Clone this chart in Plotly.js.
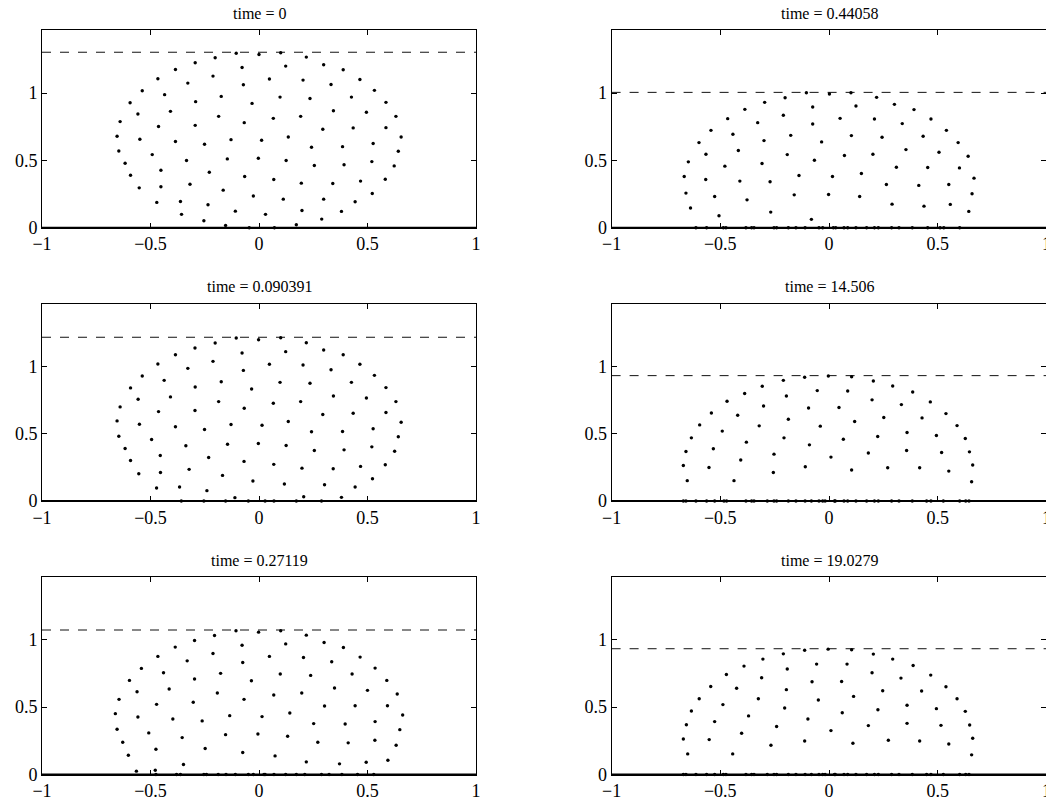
<!DOCTYPE html>
<html><head><meta charset="utf-8">
<script src="https://cdn.plot.ly/plotly-3.0.1.min.js"></script>
<style>html,body{margin:0;padding:0;background:#fff;overflow:hidden;width:1046px;height:803px}#chart{width:1060px;height:803px}</style>
</head><body><div id="chart"></div><script>
const titles = ['time = 0', 'time = 0.44058', 'time = 0.090391', 'time = 14.506', 'time = 0.27119', 'time = 19.0279'];
const surfaceLevels = [1.303, 1.005, 1.216, 0.931, 1.073, 0.934];
const xTicks = [-1, -0.5, 0, 0.5, 1];
const yTicks = [0, 0.5, 1];

const panel1 = [[-0.105,1.296],[-0.202,1.262],[-0.294,1.225],[-0.385,1.175],[-0.078,1.190],[-0.212,1.126],[-0.466,1.106],[-0.328,1.074],[-0.072,1.062],[-0.538,1.017],[-0.435,0.988],[-0.174,0.975],[-0.594,0.928],[-0.292,0.936],[-0.032,0.923],[-0.408,0.864],[-0.558,0.844],[-0.186,0.827],[-0.640,0.788],[-0.068,0.780],[-0.463,0.751],[-0.294,0.760],[-0.654,0.679],[-0.549,0.657],[-0.129,0.654],[-0.385,0.640],[-0.251,0.620],[-0.646,0.570],[-0.492,0.543],[-0.146,0.511],[-0.334,0.499],[-0.617,0.479],[-0.452,0.427],[-0.229,0.412],[-0.592,0.390],[-0.066,0.380],[-0.318,0.323],[-0.552,0.296],[-0.452,0.304],[-0.165,0.279],[-0.026,0.235],[-0.362,0.195],[-0.471,0.188],[-0.235,0.170],[-0.109,0.123],[-0.357,0.099],[-0.254,0.052],[-0.154,0.017],[-0.045,0.0],
[0,1.286],[0.100,1.299],[0.218,1.267],[0.123,1.200],[0.298,1.210],[0.388,1.173],[0.048,1.104],[0.203,1.096],[0.332,1.064],[0.465,1.101],[0.532,1.020],[0.097,0.970],[0.235,0.960],[0.426,0.970],[0.585,0.931],[0.343,0.869],[0.495,0.857],[0.066,0.812],[0.192,0.827],[0.631,0.827],[0.294,0.731],[0.434,0.741],[0.585,0.743],[0.655,0.674],[0.012,0.649],[0.135,0.674],[0.242,0.598],[0.385,0.602],[0.526,0.625],[0.642,0.568],[-0.003,0.516],[0.125,0.499],[0.255,0.462],[0.392,0.467],[0.520,0.491],[0.623,0.459],[0.068,0.358],[0.195,0.331],[0.340,0.328],[0.468,0.346],[0.582,0.360],[0.522,0.254],[0.112,0.212],[0.298,0.212],[0.443,0.193],[0.198,0.128],[0.380,0.121],[0.030,0.099],[0.289,0.064],[0.172,0.022],[0.071,0.0]];

const panel2 = [[-0.104,1.002],[0.002,0.993],[-0.202,0.965],[-0.296,0.931],[-0.387,0.879],[-0.075,0.896],[-0.210,0.835],[-0.466,0.810],[-0.328,0.780],[-0.075,0.770],[-0.543,0.723],[-0.442,0.694],[-0.176,0.686],[-0.598,0.632],[-0.299,0.647],[-0.034,0.637],[-0.417,0.573],[-0.566,0.546],[-0.192,0.543],[-0.647,0.489],[-0.067,0.501],[-0.479,0.457],[-0.308,0.477],[-0.666,0.380],[-0.567,0.358],[-0.138,0.388],[0.016,0.380],[-0.410,0.346],[-0.271,0.341],[-0.658,0.257],[-0.526,0.232],[-0.160,0.244],[-0.002,0.247],[-0.377,0.207],[-0.637,0.146],[-0.506,0.089],[-0.268,0.116],[-0.081,0.062],
[-0.612,0],[-0.563,0],[-0.486,0],[-0.474,0],[-0.382,0],[-0.356,0],[-0.345,0],[-0.253,0],[-0.241,0],[-0.187,0],[-0.152,0],[-0.110,0],[-0.046,0],[-0.029,0],[0.020,0],
[0.101,1.002],[0.219,0.968],[0.124,0.904],[0.301,0.916],[0.391,0.877],[0.051,0.812],[0.209,0.807],[0.337,0.773],[0.469,0.807],[0.540,0.723],[0.103,0.684],[0.244,0.672],[0.433,0.679],[0.594,0.632],[0.354,0.580],[0.506,0.560],[0.071,0.536],[0.202,0.546],[0.640,0.531],[0.310,0.449],[0.454,0.447],[0.600,0.444],[0.667,0.368],[0.149,0.402],[0.264,0.321],[0.413,0.314],[0.551,0.321],[0.658,0.252],[0.141,0.232],[0.290,0.175],[0.437,0.160],[0.558,0.173],[0.643,0.121],
[0.031,0],[0.069,0],[0.086,0],[0.124,0],[0.173,0],[0.209,0],[0.227,0],[0.288,0],[0.322,0],[0.383,0],[0.454,0],[0.511,0],[0.528,0],[0.601,0]];

const panel3 = [[-0.105,1.210],[-0.002,1.198],[-0.202,1.173],[-0.295,1.136],[-0.385,1.086],[-0.078,1.099],[-0.212,1.037],[-0.466,1.017],[-0.328,0.985],[-0.072,0.970],[-0.538,0.928],[-0.437,0.896],[-0.174,0.886],[-0.592,0.840],[-0.294,0.847],[-0.034,0.832],[-0.408,0.773],[-0.557,0.756],[-0.186,0.738],[-0.640,0.699],[-0.068,0.689],[-0.463,0.664],[-0.295,0.672],[-0.654,0.595],[-0.551,0.570],[-0.129,0.568],[0.014,0.563],[-0.385,0.551],[-0.251,0.531],[-0.646,0.481],[-0.495,0.457],[-0.003,0.427],[-0.145,0.422],[-0.337,0.410],[-0.617,0.390],[-0.455,0.338],[-0.232,0.323],[-0.592,0.301],[-0.069,0.294],[-0.322,0.235],[-0.554,0.202],[-0.454,0.212],[-0.168,0.190],[-0.028,0.148],[-0.366,0.104],[-0.472,0.096],[-0.240,0.077],[-0.111,0.025],
[-0.358,0],[-0.254,0],[-0.154,0],[-0.049,0],
[0.100,1.212],[0.218,1.175],[0.123,1.109],[0.298,1.121],[0.388,1.086],[0.048,1.015],[0.203,1.010],[0.332,0.975],[0.465,1.015],[0.532,0.933],[0.097,0.881],[0.235,0.874],[0.426,0.881],[0.585,0.842],[0.343,0.780],[0.495,0.765],[0.066,0.726],[0.192,0.738],[0.631,0.738],[0.294,0.642],[0.434,0.652],[0.585,0.657],[0.655,0.585],[0.135,0.590],[0.242,0.514],[0.385,0.516],[0.526,0.536],[0.642,0.477],[0.125,0.412],[0.255,0.375],[0.392,0.380],[0.520,0.402],[0.625,0.370],[0.068,0.272],[0.198,0.244],[0.342,0.240],[0.468,0.257],[0.582,0.269],[0.523,0.165],[0.117,0.126],[0.302,0.121],[0.443,0.104],[0.206,0.032],[0.380,0.027],
[0.028,0],[0.069,0],[0.172,0],[0.288,0]];

const panel4 = [[-0.112,0.919],[-0.003,0.928],[-0.210,0.896],[-0.307,0.852],[-0.388,0.798],[-0.054,0.820],[-0.196,0.780],[-0.469,0.741],[-0.301,0.706],[-0.094,0.691],[-0.541,0.654],[-0.420,0.637],[-0.187,0.607],[-0.595,0.565],[-0.321,0.558],[-0.040,0.556],[-0.491,0.519],[-0.633,0.469],[-0.207,0.469],[-0.380,0.437],[-0.090,0.417],[-0.532,0.388],[-0.658,0.368],[0.009,0.326],[-0.253,0.348],[-0.406,0.304],[-0.670,0.264],[-0.552,0.249],[-0.109,0.254],[-0.256,0.212],[-0.652,0.151],[-0.437,0.151],
[-0.670,0],[-0.658,0],[-0.612,0],[-0.563,0],[-0.526,0],[-0.483,0],[-0.471,0],[-0.382,0],[-0.356,0],[-0.345,0],[-0.284,0],[-0.253,0],[-0.241,0],[-0.187,0],[-0.152,0],[-0.110,0],[-0.081,0],[-0.046,0],[-0.029,0],[-0.018,0],[0.025,0],
[0.104,0.923],[0.204,0.891],[0.086,0.817],[0.293,0.854],[0.385,0.810],[0.046,0.694],[0.198,0.751],[0.333,0.716],[0.466,0.736],[0.538,0.649],[0.118,0.590],[0.252,0.620],[0.428,0.617],[0.589,0.560],[0.359,0.509],[0.494,0.486],[0.066,0.459],[0.224,0.479],[0.627,0.464],[0.357,0.375],[0.518,0.360],[0.646,0.365],[0.661,0.267],[0.181,0.356],[0.270,0.247],[0.417,0.247],[0.551,0.222],[0.656,0.143],[0.104,0.230],
[0.029,0],[0.069,0],[0.086,0],[0.124,0],[0.173,0],[0.209,0],[0.227,0],[0.288,0],[0.322,0],[0.383,0],[0.449,0],[0.469,0],[0.526,0],[0.601,0],[0.629,0],[0.644,0]];

const panel5 = [[-0.106,1.067],[-0.002,1.057],[-0.205,1.032],[-0.297,0.995],[-0.386,0.946],[-0.078,0.960],[-0.212,0.899],[-0.466,0.877],[-0.331,0.844],[-0.075,0.832],[-0.542,0.788],[-0.440,0.756],[-0.177,0.751],[-0.597,0.699],[-0.297,0.709],[-0.035,0.696],[-0.414,0.635],[-0.562,0.615],[-0.192,0.605],[-0.645,0.558],[-0.069,0.558],[-0.472,0.521],[-0.303,0.536],[-0.662,0.452],[-0.558,0.427],[-0.135,0.437],[0.014,0.430],[-0.397,0.412],[-0.262,0.398],[-0.654,0.336],[-0.508,0.309],[-0.154,0.296],[-0.005,0.301],[-0.354,0.274],[-0.628,0.240],[-0.475,0.188],[-0.248,0.193],[-0.602,0.143],[-0.075,0.163],[-0.348,0.074],[-0.565,0.025],[-0.478,0.032],
[-0.475,0],[-0.380,0],[-0.362,0],[-0.254,0],[-0.242,0],[-0.188,0],[-0.152,0],[-0.109,0],[-0.049,0],[-0.026,0],[0.023,0],
[0.100,1.067],[0.218,1.035],[0.123,0.970],[0.300,0.980],[0.389,0.943],[0.048,0.877],[0.205,0.869],[0.335,0.837],[0.466,0.872],[0.535,0.790],[0.098,0.746],[0.238,0.736],[0.429,0.746],[0.589,0.699],[0.348,0.642],[0.500,0.625],[0.068,0.590],[0.197,0.605],[0.637,0.598],[0.302,0.509],[0.443,0.511],[0.592,0.511],[0.662,0.442],[0.142,0.457],[0.252,0.378],[0.397,0.375],[0.535,0.393],[0.649,0.333],[0.132,0.284],[0.271,0.240],[0.411,0.235],[0.534,0.254],[0.632,0.217],[0.074,0.138],[0.218,0.094],[0.371,0.079],[0.494,0.091],[0.594,0.106],
[0.028,0],[0.069,0],[0.123,0],[0.172,0],[0.211,0],[0.288,0],[0.323,0],[0.382,0],[0.454,0],[0.529,0]];

const panel6 = [[-0.112,0.923],[-0.004,0.931],[-0.210,0.896],[-0.304,0.857],[-0.391,0.805],[-0.057,0.820],[-0.192,0.783],[-0.472,0.743],[-0.310,0.719],[-0.078,0.689],[-0.544,0.654],[-0.425,0.640],[-0.196,0.630],[-0.597,0.563],[-0.325,0.563],[-0.049,0.553],[-0.488,0.519],[-0.633,0.472],[-0.204,0.494],[-0.370,0.435],[-0.097,0.412],[-0.526,0.393],[-0.656,0.370],[0.009,0.326],[-0.241,0.356],[-0.402,0.306],[-0.670,0.264],[-0.551,0.259],[-0.112,0.249],[-0.267,0.217],[-0.650,0.153],[-0.443,0.153],
[-0.670,0],[-0.658,0],[-0.612,0],[-0.563,0],[-0.526,0],[-0.486,0],[-0.474,0],[-0.382,0],[-0.356,0],[-0.345,0],[-0.284,0],[-0.253,0],[-0.241,0],[-0.187,0],[-0.152,0],[-0.110,0],[-0.081,0],[-0.046,0],[-0.029,0],[-0.018,0],[0.025,0],
[0.104,0.926],[0.204,0.894],[0.083,0.820],[0.293,0.857],[0.387,0.810],[0.058,0.691],[0.198,0.756],[0.331,0.716],[0.468,0.738],[0.538,0.652],[0.113,0.580],[0.247,0.622],[0.426,0.620],[0.589,0.563],[0.359,0.514],[0.494,0.489],[0.061,0.459],[0.225,0.481],[0.627,0.469],[0.359,0.380],[0.515,0.365],[0.647,0.368],[0.661,0.269],[0.181,0.363],[0.273,0.254],[0.417,0.249],[0.551,0.227],[0.656,0.146],[0.110,0.232],
[0.029,0],[0.069,0],[0.086,0],[0.124,0],[0.173,0],[0.209,0],[0.227,0],[0.288,0],[0.322,0],[0.383,0],[0.449,0],[0.469,0],[0.526,0],[0.601,0],[0.629,0],[0.644,0]];

const panels = [panel1, panel2, panel3, panel4, panel5, panel6];

const W = 1060, H = 803;
const colDomains = [[42 / W, 476 / W], [611.6 / W, 1046.4 / W]];
const rowDomains = [[(H - 227.7) / H, (H - 30.2) / H], [(H - 501) / H, (H - 303.5) / H], [(H - 774.5) / H, (H - 577) / H]];
const FONT = 'Liberation Serif, Times New Roman, serif';

const data = [];
const layout = {
  width: W, height: H, margin: {l: 0, r: 0, t: 0, b: 0},
  paper_bgcolor: '#fff', plot_bgcolor: '#fff', showlegend: false,
  font: {family: FONT, color: '#000', size: 18},
  annotations: [], shapes: []
};

panels.forEach((pts, i) => {
  const k = i + 1;
  const sfx = k === 1 ? '' : String(k);
  const col = i % 2, row = Math.floor(i / 2);
  data.push({
    type: 'scatter', mode: 'lines', x: [-1, 1], y: [surfaceLevels[i], surfaceLevels[i]],
    xaxis: 'x' + sfx, yaxis: 'y' + sfx,
    line: {color: '#111', width: 1, dash: '9px,9px'}, hoverinfo: 'skip'
  });
  data.push({
    type: 'scatter', mode: 'markers', x: pts.map(p => p[0]), y: pts.map(p => p[1]),
    xaxis: 'x' + sfx, yaxis: 'y' + sfx, cliponaxis: false,
    marker: {color: '#000', size: 3.4, line: {width: 0}}
  });
  layout['xaxis' + sfx] = {
    domain: colDomains[col], anchor: 'y' + sfx, range: [-1, 1],
    tickvals: xTicks, ticks: 'inside', ticklen: 5, tickcolor: '#000', tickwidth: 1,
    showline: true, linecolor: '#000', linewidth: 1, mirror: 'ticks',
    showgrid: false, zeroline: false, tickfont: {family: FONT, size: 18, color: '#000'}
  };
  layout['yaxis' + sfx] = {
    domain: rowDomains[row], anchor: 'x' + sfx, range: [0, 1.4667],
    tickvals: yTicks, ticks: 'inside', ticklen: 5, tickcolor: '#000', tickwidth: 1,
    showline: true, linecolor: '#000', linewidth: 1, mirror: 'ticks',
    showgrid: false, zeroline: false, tickfont: {family: FONT, size: 18, color: '#000'}
  };
  layout.shapes.push({
    type: 'line', xref: 'x' + sfx + ' domain', yref: 'y' + sfx + ' domain',
    x0: 0, x1: 1, y0: 0, y1: 0, line: {color: '#000', width: 2}
  });
  layout.annotations.push({
    text: titles[i], xref: 'paper', yref: 'paper',
    x: (colDomains[col][0] + colDomains[col][1]) / 2, y: rowDomains[row][1],
    xanchor: 'center', yanchor: 'bottom', yshift: 6, showarrow: false,
    font: {family: FONT, size: 16, color: '#000'}
  });
});

Plotly.newPlot('chart', data, layout, {displayModeBar: false, staticPlot: true});
</script></body></html>
